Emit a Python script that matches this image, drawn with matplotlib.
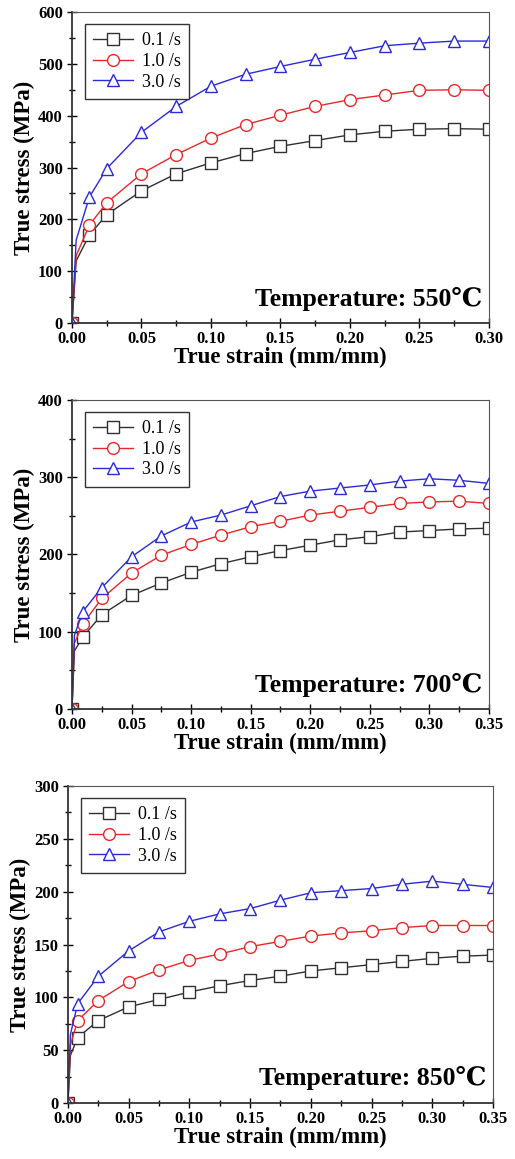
import matplotlib
matplotlib.use("Agg")
import matplotlib.pyplot as plt
from matplotlib.ticker import MultipleLocator

plt.rcParams['font.family'] = ['Liberation Serif', 'DejaVu Serif']

rate_labels = ["0.1 /s", "1.0 /s", "3.0 /s"]
temp_labels = ["Temperature: 550\u2103", "Temperature: 700\u2103", "Temperature: 850\u2103"]

# 550 C
strain_550 = [0, 0.003, 0.0125, 0.025, 0.05, 0.075, 0.1, 0.125, 0.15, 0.175, 0.2, 0.225, 0.25, 0.275, 0.3]
s550_01 = [0, 120, 170, 209, 255, 288, 309, 327, 341, 352, 363, 370, 374, 375, 374]
s550_10 = [0, 130, 189, 232, 288, 325, 357, 383, 401, 418, 431, 440, 449, 450, 449]
s550_30 = [0, 160, 243, 298, 368, 418, 457, 480, 495, 509, 522, 535, 540, 544, 544]

# 700 C
strain_700 = [0, 0.002, 0.009, 0.025, 0.05, 0.075, 0.1, 0.125, 0.15, 0.175, 0.2, 0.225, 0.25, 0.275, 0.3, 0.325, 0.35]
s700_01 = [0, 75, 93, 122, 147, 163, 177, 188, 197, 205, 212, 219, 223, 229, 231, 233, 234]
s700_10 = [0, 85, 110, 143, 176, 199, 213, 225, 236, 243, 251, 256, 261, 266, 268, 269, 266]
s700_30 = [0, 95, 126, 157, 197, 224, 242, 251, 263, 275, 282, 286, 290, 295, 298, 296, 292]

# 850 C
strain_850 = [0, 0.002, 0.008, 0.025, 0.05, 0.075, 0.1, 0.125, 0.15, 0.175, 0.2, 0.225, 0.25, 0.275, 0.3, 0.325, 0.35]
s850_01 = [0, 45, 62, 78, 91, 98, 105, 111, 116, 120, 125, 128, 131, 134, 137, 139, 140]
s850_10 = [0, 55, 78, 97, 115, 126, 135, 141, 148, 153, 158, 161, 163, 166, 168, 168, 168]
s850_30 = [0, 65, 94, 120, 144, 162, 172, 179, 184, 192, 199, 201, 203, 207, 210, 207, 204]

panels = [
    (strain_550, [s550_01, s550_10, s550_30], 0.30, 600, 100, 50, temp_labels[0]),
    (strain_700, [s700_01, s700_10, s700_30], 0.35, 400, 100, 50, temp_labels[1]),
    (strain_850, [s850_01, s850_10, s850_30], 0.35, 300, 50, 25, temp_labels[2]),
]
rects = [
    [0.1398, 0.7213, 0.8097, 0.2683],
    [0.1398, 0.3883, 0.8097, 0.2666],
    [0.1320, 0.0483, 0.8252, 0.2735],
]
colors = ['#303030', '#e82828', '#2a2ad8']
markers = ['s', 'o', '^']

fig = plt.figure(figsize=(5.15, 11.59), dpi=100)
for (strain, series, xmax, ymax, ymaj, ymin, ttl), rect in zip(panels, rects):
    ax = fig.add_axes(rect)
    n = len(strain)
    mk = [0] + list(range(2, n))
    for vals, c, m, lab in zip(series, colors, markers, rate_labels):
        ax.plot(strain, vals, color=c, lw=1.0, marker=m, markevery=mk,
                markersize=8.5, markerfacecolor='white', markeredgecolor=c,
                markeredgewidth=1.0, label=lab)
    ax.set_xlim(0, xmax)
    ax.set_ylim(0, ymax)
    ax.xaxis.set_major_locator(MultipleLocator(0.05))
    ax.xaxis.set_minor_locator(MultipleLocator(0.025))
    ax.yaxis.set_major_locator(MultipleLocator(ymaj))
    ax.yaxis.set_minor_locator(MultipleLocator(ymin))
    ax.xaxis.set_major_formatter(matplotlib.ticker.FormatStrFormatter('%.2f'))
    ax.tick_params(which='major', direction='inout', length=7, width=1.0, labelsize=12)
    ax.tick_params(which='minor', direction='inout', length=5, width=1.0)
    ax.tick_params(axis='x', which='major', pad=2.5)
    ax.tick_params(axis='y', which='major', pad=3)
    ax.tick_params(top=False, right=False, which='both')
    for lbl in ax.get_xticklabels() + ax.get_yticklabels():
        lbl.set_fontweight('bold')
    for s in ['left', 'bottom']:
        ax.spines[s].set_color('#333333')
        ax.spines[s].set_linewidth(1.3)
    for s in ['top', 'right']:
        ax.spines[s].set_color('#555555')
        ax.spines[s].set_linewidth(0.8)
    ax.set_xlabel("True strain (mm/mm)", fontsize=16.5, fontweight='bold', labelpad=0)
    ax.set_ylabel("True stress (MPa)", fontsize=16.5, fontweight='bold', labelpad=2)
    ax.text(0.985, 0.04, ttl, transform=ax.transAxes, ha='right', va='bottom',
            fontsize=18.5, fontweight='bold')
    leg = ax.legend(loc='upper left', bbox_to_anchor=(0.01, 0.99), fontsize=13,
                    fancybox=False, edgecolor='#333333', framealpha=1,
                    handlelength=2.2, borderpad=0.45, labelspacing=0.2, handletextpad=0.5)
    leg.get_frame().set_linewidth(1.0)

fig.savefig("out.png", dpi=100)
